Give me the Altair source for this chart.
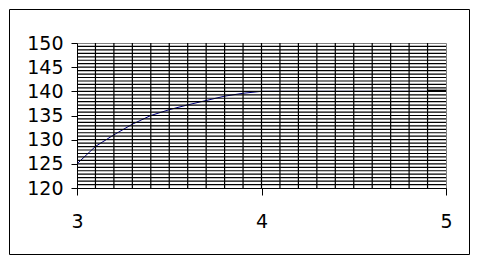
import altair as alt
import pandas as pd

# Curve data
x_vals = [3.0, 3.1, 3.2, 3.3, 3.4, 3.5, 3.6, 3.7, 3.8, 3.9, 4.0,
          4.1, 4.2, 4.3, 4.4, 4.5, 4.6, 4.7, 4.8, 4.9, 5.0]
y_vals = [125, 128.6, 131, 133.2, 135, 136.2, 137.2, 138.1, 139, 139.6, 140,
          140, 140, 140, 140, 140, 140, 140, 140, 140, 140]

# short dark segment at right end
seg_x = [4.9, 5.0]
seg_y = [140.2, 140.2]

# axis labels
y_ticks = [120, 125, 130, 135, 140, 145, 150]
x_ticks = [3, 4, 5]

# gridlines (minor grid)
h_grid = [round(120 + i * 5 / 7, 4) for i in range(1, 42)]
v_grid = [round(3 + i * 0.1, 2) for i in range(1, 20)]

W, H = 369, 145

xs = alt.Scale(domain=[3, 5], nice=False, zero=False)
ys = alt.Scale(domain=[120, 150], nice=False, zero=False)

x_axis = alt.Axis(values=x_ticks, title=None, format=".0f")
y_axis = alt.Axis(values=y_ticks, title=None, format=".0f")

curve = pd.DataFrame({"x": x_vals, "y": y_vals})
seg = pd.DataFrame({"x": seg_x, "y": seg_y})
hg = pd.DataFrame({"y": h_grid})
vg = pd.DataFrame({"x": v_grid})

line = alt.Chart(curve).mark_line(color="#000080", strokeWidth=1).encode(
    x=alt.X("x:Q", scale=xs, axis=x_axis),
    y=alt.Y("y:Q", scale=ys, axis=y_axis),
)

hrules = alt.Chart(hg).mark_rule(color="black", strokeWidth=1.2).encode(
    y=alt.Y("y:Q", scale=ys, axis=y_axis)
)
vrules = alt.Chart(vg).mark_rule(color="black", strokeWidth=1.2).encode(
    x=alt.X("x:Q", scale=xs, axis=x_axis)
)

segline = alt.Chart(seg).mark_line(color="black", strokeWidth=1.5).encode(
    x=alt.X("x:Q", scale=xs, axis=x_axis),
    y=alt.Y("y:Q", scale=ys, axis=y_axis),
)

frame = alt.Chart(pd.DataFrame({"a": [0]})).mark_rect(
    fill=None, stroke="black", strokeWidth=1
).encode(
    x=alt.value(-67.5), x2=alt.value(392.5), y=alt.value(-33.5), y2=alt.value(211.5)
)

chart = alt.layer(line, frame, hrules, vrules, segline).properties(
    width=W, height=H,
    autosize=alt.AutoSizeParams(type="none"),
    padding={"left": 77, "top": 43, "right": 33, "bottom": 75},
    background="white",
).configure_view(
    stroke="#808080", strokeWidth=1
).configure_axis(
    grid=False, domainColor="black", tickColor="black",
    labelFontSize=19, labelFont="DejaVu Sans", labelColor="black",
    labelFlush=False, labelOverlap=False, labelBound=False,
).configure_axisX(
    tickSize=7, labelPadding=17
).configure_axisY(
    tickSize=6, labelPadding=8
)

chart.save("out.html", embed_options={"renderer": "svg", "actions": False})
